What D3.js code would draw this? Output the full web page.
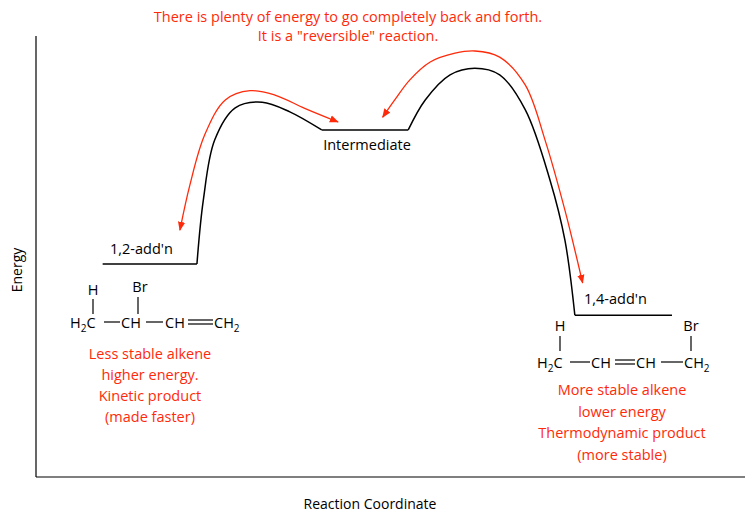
<!DOCTYPE html>
<html><head><meta charset="utf-8">
<script src="https://cdn.jsdelivr.net/npm/d3@7"></script>
<style>body{margin:0;background:#fff}text{font-family:"Open Sans",sans-serif}</style>
</head><body><svg id="c" width="750" height="518"></svg>
<script>
// Energy profile (reaction coordinate 0-100, energy 0-100)
const profileRC = [9.4,22.7,23.6,25.2,28.1,31.9,35.8,40.3,52.5,54.9,58.4,61.9,65.4,69.0,72.5,74.6,76.0,89.7];
const profileE  = [48.3,48.3,62.8,76.4,83.7,85.0,82.8,78.7,78.7,85.5,91.2,92.7,91.2,83.3,67.3,53.7,36.7,36.7];
const leftArrowRC = [42.6,37.9,33.7,30.2,26.7,23.8,21.7,20.3];
const leftArrowE  = [80.5,83.6,86.6,87.6,85.5,77.6,66.2,56.0];
const rightArrowRC = [48.9,50.6,52.7,55.6,59.1,61.9,65.4,69.0,71.8,74.6,77.1];
const rightArrowE  = [81.6,85.5,90.0,94.1,96.1,96.6,95.2,88.9,76.4,60.5,44.0];
const titleLines = ["There is plenty of energy to go completely back and forth.","It is a \"reversible\" reaction."];
const leftNotes = ["Less stable alkene","higher energy.","Kinetic product","(made faster)"];
const rightNotes = ["More stable alkene","lower energy","Thermodynamic product","(more stable)"];
const RED = "#ff2a0a";

const svg = d3.select("#c");
const x = d3.scaleLinear().domain([0,100]).range([36,745]);
const y = d3.scaleLinear().domain([0,100]).range([477,36]);

svg.append("defs").append("marker").attr("id","ah").attr("viewBox","0 0 10 10")
  .attr("refX",9).attr("refY",5).attr("markerWidth",7).attr("markerHeight",7).attr("orient","auto-start-reverse")
  .append("path").attr("d","M0,1 L10,5 L0,9 Z").attr("fill",RED);

svg.append("line").attr("x1",x(0)).attr("x2",x(0)).attr("y1",y(100)).attr("y2",y(0)).attr("stroke","#000").attr("stroke-width",1.2);
svg.append("line").attr("x1",x(0)).attr("x2",x(100)).attr("y1",y(0)).attr("y2",y(0)).attr("stroke","#000").attr("stroke-width",1.2);
svg.append("text").attr("transform","translate(22,270) rotate(-90)").attr("text-anchor","middle").attr("font-size",14).text("Energy");
svg.append("text").attr("x",370).attr("y",509).attr("text-anchor","middle").attr("font-size",14).text("Reaction Coordinate");

const pts = (a,b)=>a.map((v,i)=>[v,b[i]]);
const P = pts(profileRC,profileE);
const draw = (arr,curve)=>svg.append("path").attr("d",d3.line().x(d=>x(d[0])).y(d=>y(d[1])).curve(curve)(arr)).attr("fill","none").attr("stroke","#000").attr("stroke-width",1.5);
draw(P.slice(0,2),d3.curveLinear);
draw(P.slice(1,8),d3.curveCatmullRom);
draw(P.slice(7,9),d3.curveLinear);
draw(P.slice(8,17),d3.curveCatmullRom);
draw(P.slice(16,18),d3.curveLinear);

[[leftArrowRC,leftArrowE],[rightArrowRC,rightArrowE]].forEach(([a,b])=>{
  svg.append("path").attr("d",d3.line().x(d=>x(d[0])).y(d=>y(d[1])).curve(d3.curveCatmullRom)(pts(a,b)))
    .attr("fill","none").attr("stroke",RED).attr("stroke-width",1.3)
    .attr("marker-end","url(#ah)").attr("marker-start","url(#ah)");
});

const FS = 14.5;
titleLines.forEach((t,i)=>svg.append("text").attr("x",348).attr("y",22+i*19).attr("text-anchor","middle").attr("font-size",FS).attr("fill",RED).text(t));
leftNotes.forEach((t,i)=>svg.append("text").attr("x",150).attr("y",359+i*21).attr("text-anchor","middle").attr("font-size",FS).attr("fill",RED).text(t));
rightNotes.forEach((t,i)=>svg.append("text").attr("x",622).attr("y",395+i*21.5).attr("text-anchor","middle").attr("font-size",FS).attr("fill",RED).text(t));

svg.append("text").attr("x",110).attr("y",254).attr("font-size",FS).text("1,2-add'n");
svg.append("text").attr("x",367).attr("y",150).attr("text-anchor","middle").attr("font-size",FS).text("Intermediate");
svg.append("text").attr("x",584).attr("y",304).attr("font-size",FS).text("1,4-add'n");

function chem(xx,yy,parts){
  const t=svg.append("text").attr("x",xx).attr("y",yy).attr("font-size",FS);
  let shift=0;
  parts.forEach(p=>{
    const isSub=p.startsWith("_"); const s=isSub?p.slice(1):p;
    const dy=(isSub?4:0)-shift; shift=isSub?4:0;
    t.append("tspan").attr("dy",dy).attr("font-size",isSub?10:FS).text(s);
  });
}
function lbl(xx,yy,s){svg.append("text").attr("x",xx).attr("y",yy).attr("text-anchor","middle").attr("font-size",FS).text(s);}
function ln(x1,y1,x2,y2){svg.append("line").attr("x1",x1).attr("y1",y1).attr("x2",x2).attr("y2",y2).attr("stroke","#000").attr("stroke-width",1.2);}
// left structure
lbl(93,295,"H"); ln(93,299,93,314);
lbl(140,292,"Br"); ln(138,297,138,314);
chem(70,328,["H","_2","C"]);
ln(104,322,120,322);
chem(121,328,["CH"]);
ln(146,322,163,322);
chem(165,328,["CH"]);
ln(188,320,213,320); ln(188,324,213,324);
chem(214,328,["CH","_2"]);
// right structure
lbl(560,331,"H"); ln(560,336,560,351);
lbl(691,331,"Br"); ln(691,336,691,351);
chem(537,368,["H","_2","C"]);
ln(570,362,590,362);
chem(591,368,["CH"]);
ln(615,360,635,360); ln(615,364,635,364);
chem(636,368,["CH"]);
ln(661,362,683,362);
chem(684,368,["CH","_2"]);
</script></body></html>
